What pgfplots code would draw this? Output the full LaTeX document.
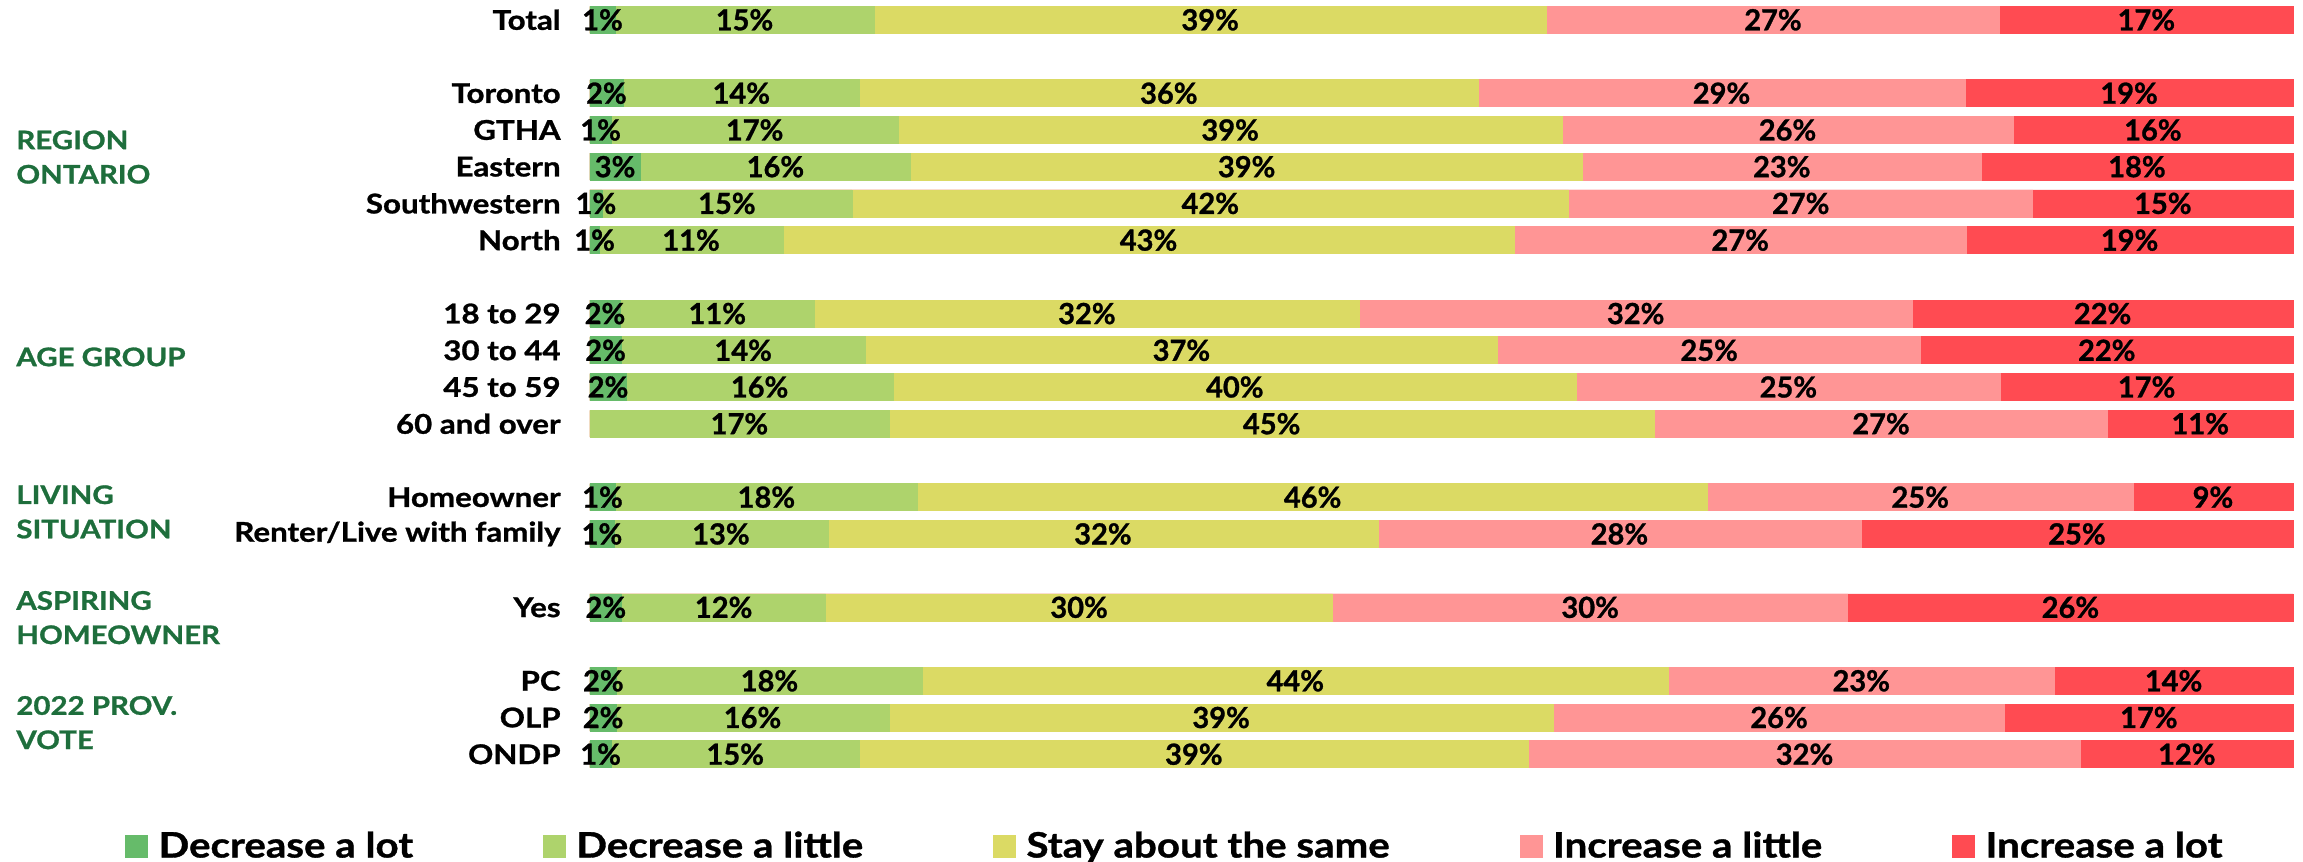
\documentclass[border=0pt]{standalone}
\usepackage{fontspec}
\setmainfont{Lato}[FakeStretch=1.15, BoldFeatures={FakeBold=1}]
\newfontfamily\numfont{Lato}[BoldFeatures={FakeBold=1}]
\usepackage{pgfplots}
\usepackage{pgfplotstable}
\pgfplotsset{compat=1.18}
\definecolor{cdg}{HTML}{66BB6A}
\definecolor{clg}{HTML}{AED36C}
\definecolor{cyl}{HTML}{DBDA64}
\definecolor{cpk}{HTML}{FF9595}
\definecolor{crd}{HTML}{FF4B52}
\definecolor{grp}{HTML}{1E6E3C}
% cumulative right ends of the segments (percent) and the printed labels
\pgfplotstableread{
y  b1   b2    b3    b4    b5  l1 l2 l3 l4 l5
0  1.47 16.68 56.15 82.78 100 1  15 39 27 17
2  1.93 15.84 52.14 80.75 100 2  14 36 29 19
3  1.25 18.09 57.09 83.55 100 1  17 39 26 16
4  2.95 18.83 58.29 81.68 100 3  16 39 23 18
5  0.70 15.38 57.47 84.72 100 1  15 42 27 15
6  0.54 11.33 54.27 80.81 100 1  11 43 27 19
8  1.76 13.19 45.17 77.64 100 2  11 32 32 22
9  1.83 16.16 53.30 78.13 100 2  14 37 25 22
10 2.12 17.80 57.93 82.81 100 2  16 40 25 17
11 0.00 17.55 62.51 89.11 100 0  17 45 27 11
13 1.47 19.25 65.62 90.60 100 1  18 46 25 9
14 1.41 13.97 46.27 74.63 100 1  13 32 28 25
16 1.86 13.84 43.60 73.86 100 2  12 30 30 26
18 1.57 19.51 63.32 85.98 100 2  18 44 23 14
19 1.54 17.55 56.57 83.07 100 2  16 39 26 17
20 1.25 15.81 55.11 87.53 100 1  15 39 32 12
}\data
\pgfplotsset{
  seg/.style={xbar, bar width=0.735, bar shift=0pt, draw=#1, line width=0.35pt, fill=#1,
    legend image code/.code={\fill[##1] (0pt,-5.5pt) rectangle (11pt,5.5pt);}},
  lab/.style={draw=none, mark=none, forget plot,
    nodes near coords={\pgfplotspointmeta\%}, point meta=explicit symbolic,
    every node near coord/.append style={anchor=center, inner sep=0pt,
      font=\numfont\bfseries\fontsize{14.5}{16}\selectfont, text=black}},
}
\begin{document}
\begin{tikzpicture}
\begin{axis}[
  at={(295pt,0pt)}, anchor=north west,
  scale only axis, width=851.5pt, height=386.3pt,
  xmin=0, xmax=100, ymin=-0.539, ymax=20.5, y dir=reverse,
  axis line style={draw=none}, major tick length=0pt,
  xtick=\empty,
  ytick={0,2,3,4,5,6,8,9,10,11,13,14,16,18,19,20},
  yticklabels={Total,Toronto,GTHA,Eastern,Southwestern,North,18 to 29,30 to 44,45 to 59,60 and over,Homeowner,Renter/Live with family,Yes,PC,OLP,ONDP},
  yticklabel style={font=\bfseries\fontsize{13.6}{16}\selectfont, inner sep=0pt, xshift=-14.5pt},
  clip=false,
  legend columns=5, reverse legend,
  legend style={at={(-0.27305,-0.095)}, anchor=west, draw=none, fill=none,
    inner sep=0pt, font=\bfseries\fontsize{17.5}{19}\selectfont,
    nodes={inner sep=0pt, anchor=west},
    /tikz/every odd column/.append style={column sep=5.3pt},
    /tikz/every even column/.append style={column sep=65pt}},
]
\addplot[seg=crd] table[x=b5,y=y]{\data}; \addlegendentry{Increase a lot}
\addplot[seg=cpk] table[x=b4,y=y]{\data}; \addlegendentry{Increase a little}
\addplot[seg=cyl] table[x=b3,y=y]{\data}; \addlegendentry{Stay about the same}
\addplot[seg=clg] table[x=b2,y=y]{\data}; \addlegendentry{Decrease a little}
\addplot[seg=cdg, skip coords between index={9}{10}] table[x=b1,y=y]{\data}; \addlegendentry{Decrease a lot}

\addplot[lab, skip coords between index={9}{10}] table[x expr={\thisrow{b1}/2}, y=y, meta=l1]{\data};
\addplot[lab] table[x expr={(\thisrow{b1}+\thisrow{b2})/2}, y=y, meta=l2]{\data};
\addplot[lab] table[x expr={(\thisrow{b2}+\thisrow{b3})/2}, y=y, meta=l3]{\data};
\addplot[lab] table[x expr={(\thisrow{b3}+\thisrow{b4})/2}, y=y, meta=l4]{\data};
\addplot[lab] table[x expr={(\thisrow{b4}+\thisrow{b5})/2}, y=y, meta=l5]{\data};

\begin{scope}[every node/.style={anchor=west, align=left, inner sep=0pt, text=grp,
    font=\bfseries\fontsize{12.8}{17.15}\selectfont}]
\node at ([xshift=-287pt]axis cs:0,3.74) {REGION\\ONTARIO};
\node at ([xshift=-287pt]axis cs:0,9.18) {AGE GROUP};
\node at ([xshift=-287pt]axis cs:0,13.4) {LIVING\\SITUATION};
\node at ([xshift=-287pt]axis cs:0,16.28) {ASPIRING\\HOMEOWNER};
\node at ([xshift=-287pt]axis cs:0,19.14) {2022 PROV.\\VOTE};
\end{scope}
\end{axis}
\pgfresetboundingbox
\path (0pt,0pt) rectangle (1151.5pt,-431pt);
\end{tikzpicture}
\end{document}
